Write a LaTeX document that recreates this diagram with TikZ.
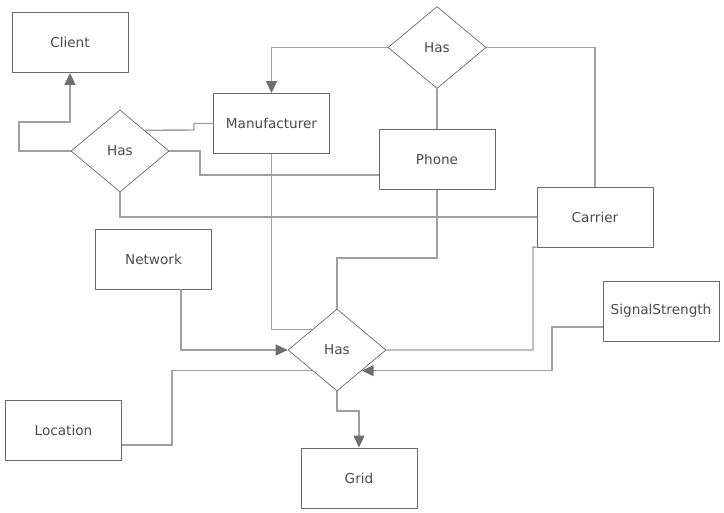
\documentclass[tikz,border=0pt]{standalone}
\usepackage{fontspec}
\setmainfont{DejaVu Sans}
\usetikzlibrary{shapes.geometric,arrows.meta,calc}
\definecolor{boxline}{HTML}{6A6A6A}
\definecolor{connline}{HTML}{A0A0A0}
\definecolor{tipcol}{HTML}{6E6E6E}
\definecolor{txt}{HTML}{4A4A4A}
\tikzset{
  entity/.style={draw=boxline, line width=0.9pt, rectangle, minimum width=116pt, minimum height=60pt, inner sep=0pt, font=\fontsize{13.6}{15}\selectfont, text=txt},
  relation/.style={draw=boxline, line width=0.7pt, diamond, aspect=1.2, minimum width=98pt, minimum height=82pt, inner sep=0pt, font=\fontsize{13.6}{15}\selectfont, text=txt},
  conn/.style={draw=connline, line width=1.4pt},
  arr/.style={-{Triangle[length=12pt,width=11pt,color=tipcol]}}
}
\begin{document}
\begin{tikzpicture}[x=1pt,y=-1pt]
\useasboundingbox (0,0) rectangle (724,513);
% entities
\node[entity] (client) at (70,42.5) {Client};
\node[entity] (manu) at (271.5,123.5) {Manufacturer};
\node[entity] (phone) at (437,159.5) {Phone};
\node[entity] (carrier) at (595,217) {Carrier};
\node[entity] (net) at (153.5,259) {Network};
\node[entity] (ss) at (661,311) {SignalStrength};
\node[entity] (loc) at (63.5,430.5) {Location};
\node[entity] (grid) at (359,478) {Grid};
% relations
\node[relation] (h1) at (120,151) {Has};
\node[relation] (h2) at (437,47.5) {Has};
\node[relation] (h3) at (337,350) {Has};
% connectors
\draw[conn,arr] (h1.west) -- (19,151) -- (19,122) -| (client.south);
\draw[conn] (h1.north east) -- (194,130) -- (194,123.5) -- (manu.west);
\draw[conn] (h1.east) -- (200,151) -- (200,175) -- (phone.west |- 0,175);
\draw[conn] (h1.south) |- (carrier.west);
\draw[conn,arr] (h2.west) -| (manu.north);
\draw[conn] (h2.south) -- (phone.north);
\draw[conn] (h2.east) -| (carrier.north);
\draw[conn] (manu.south) |- (h3.north west);
\draw[conn] (phone.south) -- (437,258) -| (h3.north);
\draw[conn,arr] (net.south -| 181,0) |- (h3.west);
\draw[conn] (loc.east |- 0,445) -- (172,445) |- (h3.south west);
\draw[conn] (carrier.south west) -- (533,247) |- (h3.east);
\draw[conn,arr] (ss.west |- 0,327) -- (552,327) |- (h3.south east);
\draw[conn,arr] (h3.south) -- (337,411) -| (grid.north);
\end{tikzpicture}
\end{document}
